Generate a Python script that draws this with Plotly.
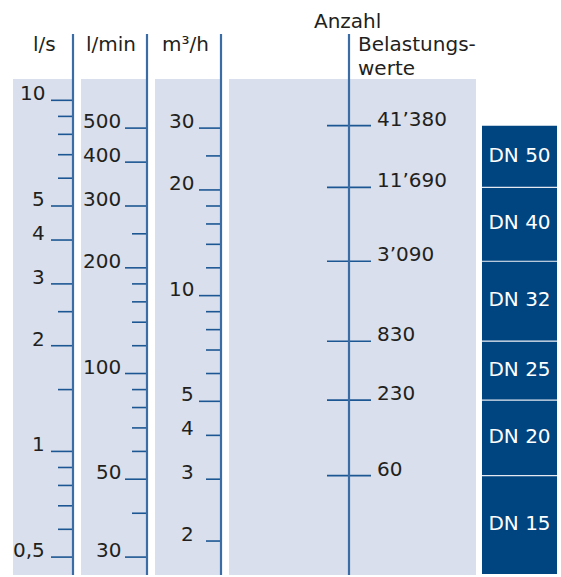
import math
import plotly.graph_objects as go

# ---------------- data ----------------
ls_major = [10, 5, 4, 3, 2, 1, 0.5]
ls_major_labels = ["10", "5", "4", "3", "2", "1", "0,5"]
ls_minor = [9, 8, 7, 6, 2.5, 1.5, 0.9, 0.8, 0.7, 0.6]

lmin_major = [500, 400, 300, 200, 100, 50, 30]
lmin_major_labels = ["500", "400", "300", "200", "100", "50", "30"]
lmin_minor = [250, 180, 160, 140, 120, 90, 80, 70, 60, 40]

m3h_major = [30, 20, 10, 5]
m3h_major_labels = ["30", "20", "10", "5"]
m3h_small = [4, 3, 2]
m3h_small_labels = ["4", "3", "2"]
m3h_minor = [25, 18, 16, 14, 12, 9, 8, 7, 6]

lu_labels = ["41’380", "11’690", "3’090", "830", "230", "60"]
lu_flow_ls = [8.47, 5.65, 3.48, 2.06, 1.40, 0.853]   # equivalent flow (l/s) of each value

dn_labels = ["DN 50", "DN 40", "DN 32", "DN 25", "DN 20", "DN 15"]

header_labels = ["l/s", "l/min", "m³/h"]

LMIN_PER_LS = 60.0
M3H_PER_LS = 3.6

# ---------------- layout constants ----------------
W, H = 561, 577
Y_RANGE = [-0.3577, 1.2857]      # log10(l/s) spanning the full figure height
FONT = "DejaVu Sans"
TXT = "#231F20"
PANEL = "#D9DFEC"
AXIS = "#3A6DA5"
TICK = "#1D5793"
DN_BLUE = "#00457F"

MAJOR_LEN, MINOR_LEN = 22, 15
PANEL_TOP, PANEL_BOT = 79, 575
AXIS_TOP = 34


def paper(py):
    return 1 - py / H


def px_to_ls(py):
    return 10 ** (Y_RANGE[1] - (Y_RANGE[1] - Y_RANGE[0]) * py / H)


fig = go.Figure()


def tick_trace(vals, x0, x1, width=1.6, color=TICK):
    xs, ys = [], []
    for v in vals:
        xs += [x0, x1, None]
        ys += [v, v, None]
    fig.add_trace(go.Scatter(x=xs, y=ys, mode="lines",
                             line=dict(color=color, width=width),
                             hoverinfo="skip", showlegend=False))


annotations = []


def label(text, x, v, anchor="right", size=20, color=TXT):
    annotations.append(dict(
        x=x, y=math.log10(v), xref="x", yref="y", text=text, showarrow=False,
        xanchor=anchor, yanchor="middle", yshift=7, borderpad=0,
        font=dict(family=FONT, size=size, color=color)))


# columns: (axis x, panel x0, panel x1, label right edge, header right edge)
cols = [
    dict(ax=73, p0=13, p1=73, lab=46, hdr=57,
         major=ls_major, major_lab=ls_major_labels, minor=ls_minor, conv=1.0),
    dict(ax=147, p0=81, p1=147, lab=122, hdr=137,
         major=lmin_major, major_lab=lmin_major_labels, minor=lmin_minor, conv=LMIN_PER_LS),
    dict(ax=221, p0=155, p1=221, lab=195, hdr=209.5,
         major=m3h_major, major_lab=m3h_major_labels, minor=m3h_minor, conv=M3H_PER_LS),
]

shapes = []
# panels
for c in cols:
    shapes.append(dict(type="rect", xref="x", yref="paper", x0=c["p0"], x1=c["p1"],
                       y0=paper(PANEL_BOT), y1=paper(PANEL_TOP),
                       fillcolor=PANEL, line=dict(width=0), layer="below"))
shapes.append(dict(type="rect", xref="x", yref="paper", x0=229, x1=476,
                   y0=paper(PANEL_BOT), y1=paper(PANEL_TOP),
                   fillcolor=PANEL, line=dict(width=0), layer="below"))

# axis lines
for axx in [c["ax"] for c in cols] + [349]:
    shapes.append(dict(type="line", xref="x", yref="paper", x0=axx, x1=axx,
                       y0=paper(PANEL_BOT), y1=paper(AXIS_TOP),
                       line=dict(color=AXIS, width=2.2), layer="above"))

# ticks and labels of the three flow scales
for c in cols:
    ax = c["ax"]
    major_ls = [v / c["conv"] for v in c["major"]]
    minor_ls = [v / c["conv"] for v in c["minor"]]
    tick_trace(major_ls, ax - MAJOR_LEN, ax)
    tick_trace(minor_ls, ax - MINOR_LEN, ax)
    for t, v in zip(c["major_lab"], major_ls):
        label(t, c["lab"], v)

# m3/h labelled short ticks
small_ls = [v / M3H_PER_LS for v in m3h_small]
tick_trace(small_ls, 221 - MINOR_LEN, 221)
for t, v in zip(m3h_small_labels, small_ls):
    label(t, 195, v)

# Belastungswerte scale
tick_trace(lu_flow_ls, 349 - 22, 349 + 22)
for t, v in zip(lu_labels, lu_flow_ls):
    label(t, 376, v, anchor="left")

# DN boxes
bounds = lu_flow_ls + [px_to_ls(574)]
for i, name in enumerate(dn_labels):
    top, bot = bounds[i], bounds[i + 1]
    fig.add_trace(go.Scatter(x=[482, 557, 557, 482, 482], y=[top, top, bot, bot, top],
                             mode="lines", fill="toself", fillcolor=DN_BLUE,
                             line=dict(width=0), hoverinfo="skip", showlegend=False))
    fig.add_trace(go.Scatter(x=[519.5], y=[math.sqrt(top * bot)], mode="text",
                             text=[name], textposition="middle center",
                             textfont=dict(family=FONT, size=20, color="white"),
                             hoverinfo="skip", showlegend=False))
# separators between DN boxes
tick_trace(lu_flow_ls[1:], 482, 557, width=1.2, color="#E4E9F2")

# headers
for c, t in zip(cols, header_labels):
    annotations.append(dict(x=c["hdr"], y=paper(44), xref="x", yref="paper", text=t,
                            showarrow=False, xanchor="right", yanchor="middle", borderpad=0,
                            font=dict(family=FONT, size=20, color=TXT)))
for t, px, py in [("Anzahl", 313, 20.5), ("Belastungs-", 356.5, 44), ("werte", 356.5, 67.5)]:
    annotations.append(dict(x=px, y=paper(py), xref="x", yref="paper", text=t,
                            showarrow=False, xanchor="left", yanchor="middle", borderpad=0,
                            font=dict(family=FONT, size=20, color=TXT)))

fig.update_layout(
    width=W, height=H, margin=dict(l=0, r=0, t=0, b=0),
    paper_bgcolor="white", plot_bgcolor="white",
    xaxis=dict(range=[0, W], visible=False, fixedrange=True),
    yaxis=dict(type="log", range=Y_RANGE, visible=False, fixedrange=True),
    shapes=shapes, annotations=annotations, showlegend=False,
)

fig.write_html("out.html", config={"displayModeBar": False},
               post_script="document.body.style.margin='0';")
